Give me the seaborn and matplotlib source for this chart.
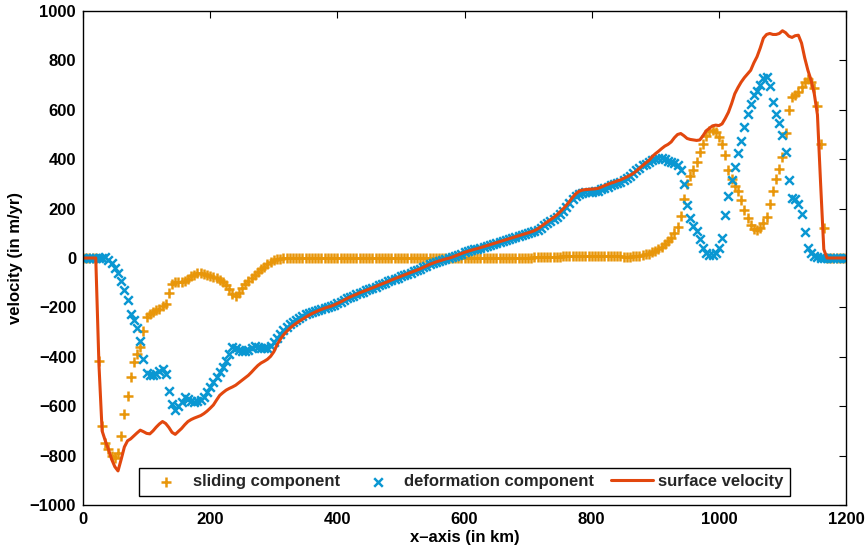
"""Glacier flowline velocity profile: sliding, deformation and surface velocity."""

import matplotlib

matplotlib.use("Agg")

import matplotlib.pyplot as plt
import numpy as np
import pandas as pd
import seaborn as sns

# Sample positions along the flowline, one every 5 km.
distance_km = np.arange(0, 1201, 5)

# Values, one row per 50 km.
sliding_velocity = [
    0, 0, 0, 0, 0, -415, -680, -750, -775, -800,
    -810, -790, -720, -630, -560, -480, -420, -390, -360, -295,
    -240, -228, -220, -212, -205, -195, -185, -140, -105, -96,
    -96, -96, -92, -85, -72, -67, -62, -60, -64, -68,
    -72, -76, -82, -89, -98, -108, -125, -145, -155, -142,
    -122, -105, -92, -80, -68, -58, -45, -35, -25, -17,
    -10, -5, -3, -2, -2, -1, -1, -1, -1, -1,
    -1, -1, -1, 0, 0, 0, 0, 0, 0, 0,
    0, 0, 0, 0, 0, 0, 0, 0, 0, 0,
    0, 0, 0, 0, 0, 0, 0, 0, 0, 0,
    0, 0, 0, 0, 0, 0, 0, 0, 0, 0,
    0, 0, 0, 0, 0, 0, 0, 0, 0, 0,
    0, 0, 1, 1, 1, 1, 1, 1, 1, 1,
    1, 1, 1, 1, 1, 1, 1, 1, 2, 2,
    2, 2, 3, 3, 4, 4, 5, 5, 5, 6,
    6, 7, 7, 8, 8, 9, 9, 10, 10, 10,
    10, 10, 10, 9, 9, 9, 8, 8, 7, 7,
    6, 6, 6, 7, 8, 10, 12, 15, 18, 24,
    30, 36, 45, 55, 68, 82, 103, 125, 170, 240,
    300, 330, 355, 390, 430, 462, 495, 515, 520, 512,
    490, 460, 415, 355, 318, 290, 270, 235, 195, 160,
    132, 118, 113, 122, 140, 167, 220, 272, 318, 362,
    410, 505, 600, 650, 660, 673, 692, 712, 725, 712,
    690, 615, 460, 123, 0, 0, 0, 0, 0, 0,
    0,
]

deformation_velocity = [
    0, 0, 0, 0, 0, 0, 2, 3, -8, -22,
    -40, -62, -95, -130, -170, -228, -250, -282, -335, -410,
    -465, -472, -474, -468, -458, -448, -470, -540, -592, -615,
    -600, -582, -562, -570, -577, -582, -578, -574, -563, -542,
    -521, -503, -483, -462, -440, -415, -390, -362, -366, -373,
    -378, -376, -372, -363, -358, -359, -364, -366, -366, -356,
    -342, -325, -308, -292, -279, -268, -259, -251, -243, -235,
    -228, -222, -218, -214, -210, -206, -202, -198, -194, -189,
    -183, -177, -170, -163, -157, -152, -147, -141, -136, -131,
    -126, -121, -116, -110, -105, -100, -95, -89, -84, -79,
    -74, -69, -64, -59, -54, -49, -44, -38, -32, -26,
    -21, -16, -12, -8, -4, -1, 3, 8, 13, 18,
    23, 27, 31, 35, 38, 42, 46, 50, 54, 58,
    62, 66, 70, 74, 78, 82, 86, 90, 94, 98,
    100, 104, 108, 115, 123, 133, 141, 150, 159, 168,
    180, 192, 206, 221, 238, 251, 261, 265, 267, 268,
    269, 270, 272, 278, 284, 289, 295, 299, 305, 309,
    316, 322, 330, 345, 356, 366, 375, 382, 388, 396,
    402, 404, 403, 399, 394, 390, 384, 377, 358, 300,
    215, 160, 128, 108, 78, 42, 21, 13, 13, 20,
    42, 80, 175, 250, 315, 370, 425, 475, 530, 585,
    625, 658, 677, 700, 727, 733, 695, 630, 585, 547,
    500, 430, 315, 242, 238, 218, 180, 105, 42, 20,
    8, 4, 2, 0, 0, 0, 0, 0, 0, 0,
    0,
]

surface_velocity = [
    0, 0, 0, 0, 0, -430, -700, -740, -775, -815,
    -845, -862, -815, -765, -740, -732, -720, -708, -697, -703,
    -710, -712, -700, -685, -672, -662, -670, -686, -706, -714,
    -702, -690, -675, -662, -654, -648, -643, -638, -630, -620,
    -608, -595, -575, -556, -545, -535, -528, -522, -515, -505,
    -495, -485, -475, -462, -448, -435, -425, -418, -410, -398,
    -380, -352, -330, -312, -298, -285, -274, -265, -256, -248,
    -240, -232, -225, -219, -213, -208, -203, -199, -195, -190,
    -184, -178, -171, -164, -158, -152, -147, -141, -136, -131,
    -126, -121, -116, -110, -105, -100, -95, -89, -84, -79,
    -74, -69, -64, -59, -54, -49, -44, -38, -32, -26,
    -21, -16, -12, -8, -4, -1, 3, 8, 13, 18,
    23, 27, 31, 35, 38, 42, 46, 50, 54, 58,
    62, 66, 70, 74, 78, 82, 86, 90, 94, 98,
    102, 106, 111, 118, 127, 137, 146, 155, 164, 174,
    186, 199, 213, 229, 246, 260, 270, 275, 277, 278,
    279, 280, 282, 287, 293, 298, 303, 307, 312, 316,
    322, 328, 335, 342, 352, 363, 374, 385, 395, 410,
    422, 432, 443, 453, 460, 470, 487, 500, 504, 495,
    484, 480, 478, 476, 478, 495, 515, 525, 535, 538,
    536, 543, 565, 590, 625, 665, 690, 712, 730, 745,
    760, 790, 815, 850, 890, 905, 909, 905, 905, 909,
    920, 912, 898, 893, 900, 902, 870, 810, 760, 720,
    665, 580, 300, 35, 0, 0, 0, 0, 0, 0,
    0,
]

x_ticks = [0, 200, 400, 600, 800, 1000, 1200]
y_ticks = [-1000, -800, -600, -400, -200, 0, 200, 400, 600, 800, 1000]

SLIDING_COLOR = "#E8960A"
DEFORMATION_COLOR = "#0A97D2"
SURFACE_COLOR = "#E2470E"

profile = pd.DataFrame(
    {
        "distance": distance_km,
        "sliding": sliding_velocity,
        "deformation": deformation_velocity,
        "surface": surface_velocity,
    }
)

sns.set_theme(style="white")
plt.rcParams["font.family"] = ["Liberation Sans", "DejaVu Sans"]
plt.rcParams["font.weight"] = "bold"
plt.rcParams["axes.labelweight"] = "bold"

fig = plt.figure(figsize=(8.65, 5.5), dpi=100)
ax = fig.add_axes([0.0960, 0.0818, 0.8821, 0.8982])

sns.scatterplot(
    data=profile,
    x="distance",
    y="sliding",
    marker="+",
    s=55,
    linewidth=1.8,
    color=SLIDING_COLOR,
    label="sliding component",
    ax=ax,
)
sns.scatterplot(
    data=profile,
    x="distance",
    y="deformation",
    marker="x",
    s=38,
    linewidth=1.8,
    color=DEFORMATION_COLOR,
    label="deformation component",
    ax=ax,
)
sns.lineplot(
    data=profile,
    x="distance",
    y="surface",
    color=SURFACE_COLOR,
    linewidth=2.2,
    errorbar=None,
    label="surface velocity",
    ax=ax,
)

ax.set_xlim(0, 1200)
ax.set_ylim(-1000, 1000)
ax.set_xticks(x_ticks)
ax.set_yticks(y_ticks)
ax.tick_params(
    direction="in",
    length=5,
    width=0.8,
    top=True,
    right=True,
    labelsize=12,
    pad=5,
    colors="black",
)
for spine in ax.spines.values():
    spine.set_visible(True)
    spine.set_color("black")
    spine.set_linewidth(1.0)

ax.set_xlabel("x–axis (in km)", fontsize=12, labelpad=2, color="black")
ax.set_ylabel("velocity (in m/yr)", fontsize=12, labelpad=5, color="black")

legend = ax.legend(
    loc="lower center",
    ncol=3,
    fontsize=12,
    frameon=True,
    fancybox=False,
    framealpha=1,
    edgecolor="black",
    handlelength=2.5,
    handletextpad=0.35,
    columnspacing=1.0,
    borderpad=0.4,
    borderaxespad=0.55,
)
legend.get_frame().set_linewidth(1.0)

fig.savefig("out.png", dpi=100)
plt.close(fig)
